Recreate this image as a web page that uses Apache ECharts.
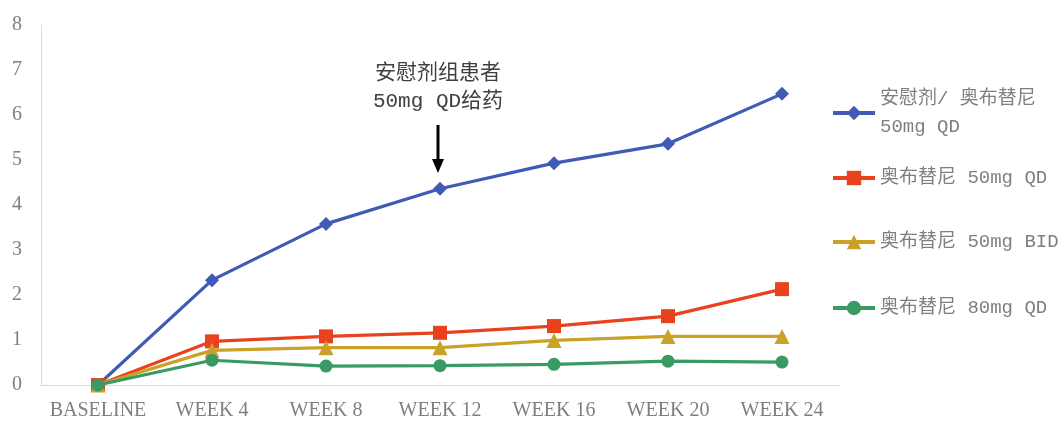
<!DOCTYPE html>
<html>
<head>
<meta charset="utf-8">
<script src="https://cdn.jsdelivr.net/npm/echarts@6/dist/echarts.min.js"></script>
<style>html,body{margin:0;padding:0;background:#fff;}#c{width:1062px;height:421px;}</style>
</head>
<body>
<div id="c"></div>
<script>
var categories = ['BASELINE', 'WEEK 4', 'WEEK 8', 'WEEK 12', 'WEEK 16', 'WEEK 20', 'WEEK 24'];
var seriesNames = ['安慰剂/ 奥布替尼\n50mg QD', '奥布替尼 50mg QD', '奥布替尼 50mg BID', '奥布替尼 80mg QD'];
var placeboValues = [0, 2.33, 3.58, 4.36, 4.93, 5.36, 6.47];
var qd50Values = [0, 0.97, 1.08, 1.16, 1.31, 1.53, 2.13];
var bid50Values = [0, 0.77, 0.83, 0.83, 0.99, 1.08, 1.08];
var qd80Values = [0, 0.55, 0.42, 0.43, 0.46, 0.53, 0.51];
var yTicks = [0, 8, 1];
var annotationLines = ['安慰剂组患者', '50mg QD给药'];

var colors = ['#3F5BB5', '#E8421E', '#C9A227', '#3A9A64'];
var symbols = ['diamond', 'rect', 'triangle', 'circle'];
var symbolSizes = [14, 14, 15, 13];
var allValues = [placeboValues, qd50Values, bid50Values, qd80Values];
var legendCenters = [113, 178, 242, 308];

var chart = echarts.init(document.getElementById('c'), null, {renderer: 'canvas'});
var legendFont = "'Liberation Mono', 'Noto Sans CJK SC', monospace";
var series = allValues.map(function (vals, i) {
  return {
    name: seriesNames[i],
    type: 'line',
    data: vals,
    symbol: symbols[i],
    symbolSize: symbolSizes[i],
    showAllSymbol: true,
    lineStyle: {width: 3.2, color: colors[i]},
    itemStyle: {color: colors[i]},
    z: 2 + i
  };
});
var legends = seriesNames.map(function (n, i) {
  var multi = i === 0;
  return {
    data: [n],
    orient: 'vertical',
    left: 831,
    top: multi ? legendCenters[i] - 42 : legendCenters[i] - 14,
    padding: 0,
    itemWidth: 42,
    itemHeight: 18,
    itemGap: 0,
    selectedMode: false,
    lineStyle: {width: 4},
    textStyle: {
      color: '#7F7F7F',
      fontSize: 19,
      fontFamily: legendFont,
      lineHeight: 28,
      padding: multi ? [28, 0, 0, 0] : 0
    }
  };
});
chart.setOption({
  animation: false,
  color: colors,
  grid: {left: 41, right: 223, top: 25, bottom: 35, containLabel: false},
  legend: legends,
  xAxis: {
    type: 'category',
    data: categories,
    boundaryGap: true,
    axisLine: {lineStyle: {color: '#D9D9D9', width: 1}},
    axisTick: {show: false},
    axisLabel: {interval: 0, color: '#7F7F7F', fontSize: 20, fontFamily: "'Liberation Serif', serif", margin: 16}
  },
  yAxis: {
    type: 'value',
    min: yTicks[0],
    max: yTicks[1],
    interval: yTicks[2],
    axisLine: {show: true, lineStyle: {color: '#D9D9D9', width: 1}},
    axisTick: {show: false},
    splitLine: {show: false},
    axisLabel: {color: '#7F7F7F', fontSize: 20, fontFamily: "'Liberation Serif', serif", margin: 19}
  },
  graphic: [
    {
      type: 'text', x: 438, y: 73,
      style: {text: annotationLines[0], fontSize: 21, fontFamily: legendFont, fill: '#404040', align: 'center', verticalAlign: 'middle'}
    },
    {
      type: 'text', x: 438, y: 101,
      style: {text: annotationLines[1], fontSize: 21, fontFamily: legendFont, fill: '#404040', align: 'center', verticalAlign: 'middle'}
    },
    {type: 'line', shape: {x1: 438, y1: 125, x2: 438, y2: 162}, style: {stroke: '#000', lineWidth: 3}},
    {type: 'polygon', shape: {points: [[432, 159], [444, 159], [438, 173]]}, style: {fill: '#000'}}
  ],
  series: series
});
</script>
</body>
</html>
